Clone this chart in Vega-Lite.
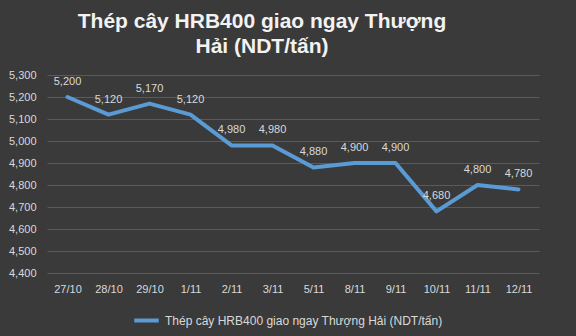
{
  "$schema": "https://vega.github.io/schema/vega-lite/v6.json",
  "autosize": {"type": "none"},
  "width": 492,
  "height": 198,
  "padding": {"left": 47, "top": 75, "right": 37, "bottom": 63},
  "background": "#3a3a3a",
  "config": {"view": {"stroke": null}},
  "title": {
    "text": ["Thép cây HRB400 giao ngay Thượng", "Hải (NDT/tấn)"],
    "font": "Liberation Sans",
    "fontSize": 21,
    "fontWeight": "bold",
    "color": "#f2f2f2",
    "anchor": "middle",
    "frame": "group",
    "lineHeight": 25,
    "offset": 12,
    "dx": -31
  },
  "data": {
    "values": [
      {"date": "27/10", "price": 5200, "series": "Thép cây HRB400 giao ngay Thượng Hải (NDT/tấn)"},
      {"date": "28/10", "price": 5120, "series": "Thép cây HRB400 giao ngay Thượng Hải (NDT/tấn)"},
      {"date": "29/10", "price": 5170, "series": "Thép cây HRB400 giao ngay Thượng Hải (NDT/tấn)"},
      {"date": "1/11", "price": 5120, "series": "Thép cây HRB400 giao ngay Thượng Hải (NDT/tấn)"},
      {"date": "2/11", "price": 4980, "series": "Thép cây HRB400 giao ngay Thượng Hải (NDT/tấn)"},
      {"date": "3/11", "price": 4980, "series": "Thép cây HRB400 giao ngay Thượng Hải (NDT/tấn)"},
      {"date": "5/11", "price": 4880, "series": "Thép cây HRB400 giao ngay Thượng Hải (NDT/tấn)"},
      {"date": "8/11", "price": 4900, "series": "Thép cây HRB400 giao ngay Thượng Hải (NDT/tấn)"},
      {"date": "9/11", "price": 4900, "series": "Thép cây HRB400 giao ngay Thượng Hải (NDT/tấn)"},
      {"date": "10/11", "price": 4680, "series": "Thép cây HRB400 giao ngay Thượng Hải (NDT/tấn)"},
      {"date": "11/11", "price": 4800, "series": "Thép cây HRB400 giao ngay Thượng Hải (NDT/tấn)"},
      {"date": "12/11", "price": 4780, "series": "Thép cây HRB400 giao ngay Thượng Hải (NDT/tấn)"}
    ]
  },
  "encoding": {
    "x": {
      "field": "date", "type": "ordinal", "sort": null,
      "scale": {"paddingInner": 0, "paddingOuter": 0.5},
      "axis": {"title": null, "labelAngle": 0, "labelColor": "#d9d9d9", "labelFont": "Liberation Sans", "labelFontSize": 11, "ticks": false, "domain": false, "grid": false, "labelPadding": 10}
    },
    "y": {
      "field": "price", "type": "quantitative",
      "scale": {"domain": [4400, 5300], "nice": false, "zero": false},
      "axis": {"title": null, "format": ",d", "values": [4400,4500,4600,4700,4800,4900,5000,5100,5200,5300], "labelOverlap": false, "labelColor": "#d9d9d9", "labelFont": "Liberation Sans", "labelFontSize": 11, "ticks": false, "domain": false, "grid": true, "gridColor": "#5a5a5a", "gridOpacity": 1, "gridWidth": 1, "labelPadding": 11}
    }
  },
  "layer": [
    {
      "mark": {"type": "line", "strokeWidth": 4, "strokeCap": "round", "strokeJoin": "round"},
      "encoding": {
        "color": {"field": "series", "type": "nominal", "scale": {"range": ["#5b9bd5"]},
          "legend": {"orient": "none", "legendX": 85, "legendY": 231, "title": null, "symbolType": "stroke", "symbolStrokeWidth": 4, "symbolSize": 600, "labelColor": "#d9d9d9", "labelFont": "Liberation Sans", "labelFontSize": 12, "labelLimit": 400}
        }
      }
    },
    {
      "mark": {"type": "text", "dy": -15, "color": "#d9d9d9", "font": "Liberation Sans", "fontSize": 11},
      "encoding": {"text": {"field": "price", "type": "quantitative", "format": ","}}
    }
  ]
}
